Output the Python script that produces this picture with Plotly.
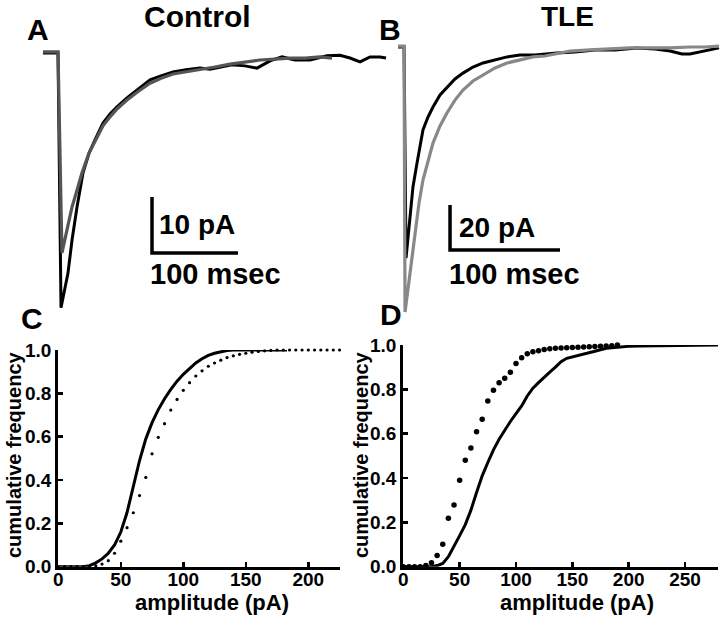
import plotly.graph_objects as go

# ---------------- data ----------------
# Panel A (Control) averaged sEPSC traces: time (ms), current (pA)
a_black_t = [-4.7, 12.8, 16.3, 19.8, 24.4, 29.1, 34.9, 41.9, 48.8, 55.8, 65.1, 73.3, 81.4, 93.0, 104.7,
             119.8, 132.6, 146.5, 161.6, 177.9, 189.5, 201.2, 215.1, 230.2, 244.2, 259.3, 273.3, 288.4,
             305.8, 325.6, 340.7, 352.3, 364.0, 375.6, 387.2, 394.2]
a_black_i = [0.0, 0.0, -45.5, -42.9, -39.3, -33.4, -27.5, -21.4, -17.9, -15.5, -12.5, -10.9, -9.6, -8.0, -6.6,
             -4.8, -4.1, -3.4, -3.0, -2.7, -2.9, -2.5, -2.1, -2.3, -2.7, -1.4, -0.7, -1.25,
             -1.25, -0.5, -0.4, -0.9, -1.6, -0.7, -0.7, -0.9]
a_gray_t = [-4.7, 12.8, 17.4, 20.9, 29.1, 34.9, 40.7, 48.8, 55.8, 65.1, 73.3, 81.4, 93.0, 104.7, 119.8,
            132.6, 146.5, 161.6, 177.9, 195.3, 212.8, 230.2, 247.7, 265.1, 282.6, 300.0, 317.4, 331.4]
a_gray_i = [0.2, 0.2, -35.7, -33.4, -27.5, -24.5, -21.4, -17.9, -15.7, -13.0, -11.4, -10.0, -8.4, -7.0, -5.4,
            -4.5, -3.75, -3.4, -2.9, -2.5, -2.0, -1.6, -1.25, -1.1, -0.9, -0.9, -0.7, -0.9]

# Panel B (TLE) averaged sEPSC traces
b_black_t = [0.0, 5.5, 7.3, 10.9, 13.6, 17.3, 22.7, 27.3, 31.8, 38.2, 44.5, 51.8, 59.1, 68.2, 77.3, 88.2,
             99.1, 110.9, 124.5, 144.5, 160.9, 179.1, 197.3, 217.3, 233.6, 247.3, 258.2, 265.5, 274.5,
             283.6, 291.8]
b_black_i = [0.0, 0.0, -93.8, -75.6, -62.2, -51.6, -36.9, -31.1, -26.7, -21.3, -17.8, -14.2, -11.6, -8.9, -7.1,
             -5.8, -4.4, -3.6, -3.6, -2.7, -2.2, -1.3, -1.3, -0.4, -0.9, -1.8, -3.1, -3.1, -2.2, -1.3, -0.4]
b_gray_t = [0.0, 5.5, 6.4, 8.2, 10.9, 15.5, 19.1, 22.7, 27.3, 31.8, 38.2, 44.5, 51.8, 59.1, 68.2, 77.3,
            88.2, 99.1, 110.9, 122.7, 133.6, 144.5, 156.4, 174.5, 192.7, 210.9, 229.1, 247.3, 265.5,
            279.1, 291.8]
b_gray_i = [0.4, 0.4, -117.8, -110.7, -99.1, -81.3, -69.3, -59.1, -50.2, -42.7, -35.1, -29.3, -23.6, -19.1,
            -15.1, -12.4, -9.3, -7.1, -5.8, -4.4, -4.0, -3.1, -1.8, -1.3, -0.9, -0.4, -0.4, -0.4, 0.0, 0.0, 0.4]

# Scale bars (pA, ms)
a_scale_pa, a_scale_ms = 10, 100
b_scale_pa, b_scale_ms = 20, 100

# Panel C (Control) cumulative amplitude distributions
c_line_amp = [0, 20, 25, 30, 35, 40, 45, 50, 55, 60, 65, 70, 75, 80, 85, 90, 95, 100, 105, 110, 115, 120,
              125, 130, 135, 140, 183]
c_line_cum = [0, 0, 0.005, 0.018, 0.036, 0.062, 0.1, 0.16, 0.25, 0.375, 0.49, 0.59, 0.665, 0.725, 0.775,
              0.818, 0.856, 0.888, 0.915, 0.94, 0.96, 0.975, 0.985, 0.993, 0.998, 1.0, 1.0]
c_dot_amp = list(range(0, 230, 5))
c_dot_cum = [0, 0, 0, 0, 0, 0, 0.004, 0.012, 0.028, 0.062, 0.118, 0.18, 0.249, 0.328, 0.412, 0.521, 0.597,
             0.66, 0.723, 0.772, 0.814, 0.849, 0.88, 0.904, 0.925, 0.94, 0.953, 0.965, 0.973, 0.98, 0.985,
             0.99, 0.993, 0.996, 0.998, 1.0, 1.0, 1.0, 1.0, 1.0, 1.0, 1.0, 1.0, 1.0, 1.0, 1.0]

# Panel D (TLE) cumulative amplitude distributions
d_line_amp = [0, 25, 30, 35, 40, 45, 50, 55, 60, 65, 70, 75, 80, 85, 90, 95, 100, 105, 110, 115, 120, 125,
              130, 135, 140, 145, 150, 155, 160, 170, 180, 190, 200, 210, 230, 250, 280]
d_line_cum = [0, 0, 0.005, 0.015, 0.045, 0.09, 0.14, 0.19, 0.255, 0.335, 0.41, 0.47, 0.527, 0.575, 0.618,
              0.655, 0.69, 0.725, 0.77, 0.805, 0.83, 0.855, 0.878, 0.9, 0.925, 0.94, 0.947, 0.953, 0.96,
              0.972, 0.985, 0.99, 0.994, 0.996, 0.998, 1.0, 1.0]
d_dot_amp = list(range(0, 195, 5))
d_dot_cum = [0, 0, 0, 0, 0.005, 0.018, 0.05, 0.101, 0.218, 0.278, 0.39, 0.48, 0.535, 0.609, 0.665, 0.747,
             0.796, 0.83, 0.85, 0.877, 0.916, 0.943, 0.961, 0.97, 0.974, 0.98, 0.983, 0.985, 0.987, 0.988,
             0.989, 0.99, 0.991, 0.992, 0.993, 0.994, 0.996, 0.997, 1.0]

cum_ticks = [0, 0.2, 0.4, 0.6, 0.8, 1.0]
c_amp_ticks = [0, 50, 100, 150, 200]
d_amp_ticks = [0, 50, 100, 150, 200, 250]

# ---------------- layout helpers ----------------
W, H = 720, 626
FONT = "Liberation Sans, Arial, Helvetica, sans-serif"


def fx(px):
    return px / W


def fy(py):
    return 1 - py / H


fig = go.Figure()

# Trace panels
fig.add_trace(go.Scatter(x=a_black_t, y=a_black_i, mode="lines", line=dict(color="#000000", width=3),
                         xaxis="x", yaxis="y", showlegend=False))
fig.add_trace(go.Scatter(x=a_gray_t, y=a_gray_i, mode="lines", line=dict(color="#555555", width=3.2),
                         xaxis="x", yaxis="y", showlegend=False))
fig.add_trace(go.Scatter(x=b_black_t, y=b_black_i, mode="lines", line=dict(color="#000000", width=3),
                         xaxis="x2", yaxis="y2", showlegend=False))
fig.add_trace(go.Scatter(x=b_gray_t, y=b_gray_i, mode="lines", line=dict(color="#888888", width=3.2),
                         xaxis="x2", yaxis="y2", showlegend=False))

# scale bars (anchored in each trace panel's data units)
a_sb_t0, a_sb_y0 = 122.1, -35.7
b_sb_t0, b_sb_y0 = 47.3, -90.2
fig.add_trace(go.Scatter(x=[a_sb_t0, a_sb_t0, a_sb_t0 + a_scale_ms],
                         y=[a_sb_y0 + a_scale_pa, a_sb_y0, a_sb_y0], mode="lines",
                         line=dict(color="#000000", width=3.5), xaxis="x", yaxis="y", showlegend=False))
fig.add_trace(go.Scatter(x=[b_sb_t0, b_sb_t0, b_sb_t0 + b_scale_ms],
                         y=[b_sb_y0 + b_scale_pa, b_sb_y0, b_sb_y0], mode="lines",
                         line=dict(color="#000000", width=3.5), xaxis="x2", yaxis="y2", showlegend=False))

# Cumulative panels
fig.add_trace(go.Scatter(x=c_dot_amp, y=c_dot_cum, mode="markers", marker=dict(color="#000000", size=3.2),
                         xaxis="x3", yaxis="y3", showlegend=False, cliponaxis=False))
fig.add_trace(go.Scatter(x=c_line_amp, y=c_line_cum, mode="lines", line=dict(color="#000000", width=3),
                         xaxis="x3", yaxis="y3", showlegend=False, cliponaxis=False))
fig.add_trace(go.Scatter(x=d_dot_amp, y=d_dot_cum, mode="markers", marker=dict(color="#000000", size=5.5),
                         xaxis="x4", yaxis="y4", showlegend=False, cliponaxis=False))
fig.add_trace(go.Scatter(x=d_line_amp, y=d_line_cum, mode="lines", line=dict(color="#000000", width=3),
                         xaxis="x4", yaxis="y4", showlegend=False, cliponaxis=False))

# Axis calibrations (pixel positions of the panels)
a_xr = [(40 - 47) / 0.86, (390 - 47) / 0.86]
a_yr = [-(320 - 53) / 5.6, -(40 - 53) / 5.6]
b_xr = [(395 - 398) / 1.1, (720 - 398) / 1.1]
b_yr = [-(320 - 47) / 2.25, -(30 - 47) / 2.25]

hidden = dict(visible=False, showgrid=False, zeroline=False, fixedrange=True, automargin=False)

tickfont = dict(family=FONT, size=19, color="#000000", weight="bold")
cum_axis = dict(showline=True, linewidth=3.2, linecolor="#000000", ticks="inside", ticklen=5, tickwidth=2.5,
                tickcolor="#000000", showgrid=False, zeroline=False, tickfont=tickfont, automargin=False,
                fixedrange=True)

fig.update_layout(
    width=W, height=H, autosize=False,
    margin=dict(l=0, r=0, t=0, b=0, pad=0, autoexpand=False),
    paper_bgcolor="white", plot_bgcolor="white",
    hovermode=False,
    xaxis=dict(domain=[fx(40), fx(390)], range=a_xr, anchor="y", **hidden),
    yaxis=dict(domain=[fy(320), fy(40)], range=a_yr, anchor="x", **hidden),
    xaxis2=dict(domain=[fx(395), fx(720)], range=b_xr, anchor="y2", **hidden),
    yaxis2=dict(domain=[fy(320), fy(30)], range=b_yr, anchor="x2", **hidden),
    xaxis3=dict(domain=[fx(58.3), fx(340)], range=[0, (340 - 58.3) / 1.25], anchor="y3",
                tickvals=c_amp_ticks, ticklabelstandoff=-7, **cum_axis),
    yaxis3=dict(domain=[fy(566.7), fy(350)], range=[0, 1], anchor="x3",
                tickvals=cum_ticks, tickformat=".1f", **cum_axis),
    xaxis4=dict(domain=[fx(403.3), fx(718)], range=[0, (718 - 403.3) / 1.127], anchor="y4",
                tickvals=d_amp_ticks, ticklabelstandoff=-7, **cum_axis),
    yaxis4=dict(domain=[fy(566.7), fy(345)], range=[0, 1], anchor="x4",
                tickvals=cum_ticks, tickformat=".1f", **cum_axis),
)


def label(text, px, py, size, xanchor="center", yanchor="middle", angle=0):
    fig.add_annotation(text=text, x=fx(px), y=fy(py), xref="paper", yref="paper", showarrow=False,
                       xanchor=xanchor, yanchor=yanchor, textangle=angle,
                       font=dict(family=FONT, size=size, color="#000000", weight="bold"))


# panel letters and titles
label("A", 38, 30, 30)
label("B", 390, 30, 30)
label("C", 32, 318, 30)
label("D", 391, 314, 30)
label("Control", 197, 17, 30)
label("TLE", 567, 16, 28)

# scale bar labels
label("10 pA", 157, 224, 28, xanchor="left")
label("100 msec", 148, 274, 29, xanchor="left")
label("20 pA", 457, 227, 28, xanchor="left")
label("100 msec", 447, 274, 29, xanchor="left")

# axis titles of cumulative plots
label("amplitude (pA)", 212, 602, 22)
label("amplitude (pA)", 577, 602, 22)
label("cumulative frequency", 14, 455, 20, angle=-90)
label("cumulative frequency", 361, 455, 20, angle=-90)

fig.write_html("out.html", config={"displayModeBar": False, "staticPlot": True},
               post_script="document.body.style.margin='0';")
